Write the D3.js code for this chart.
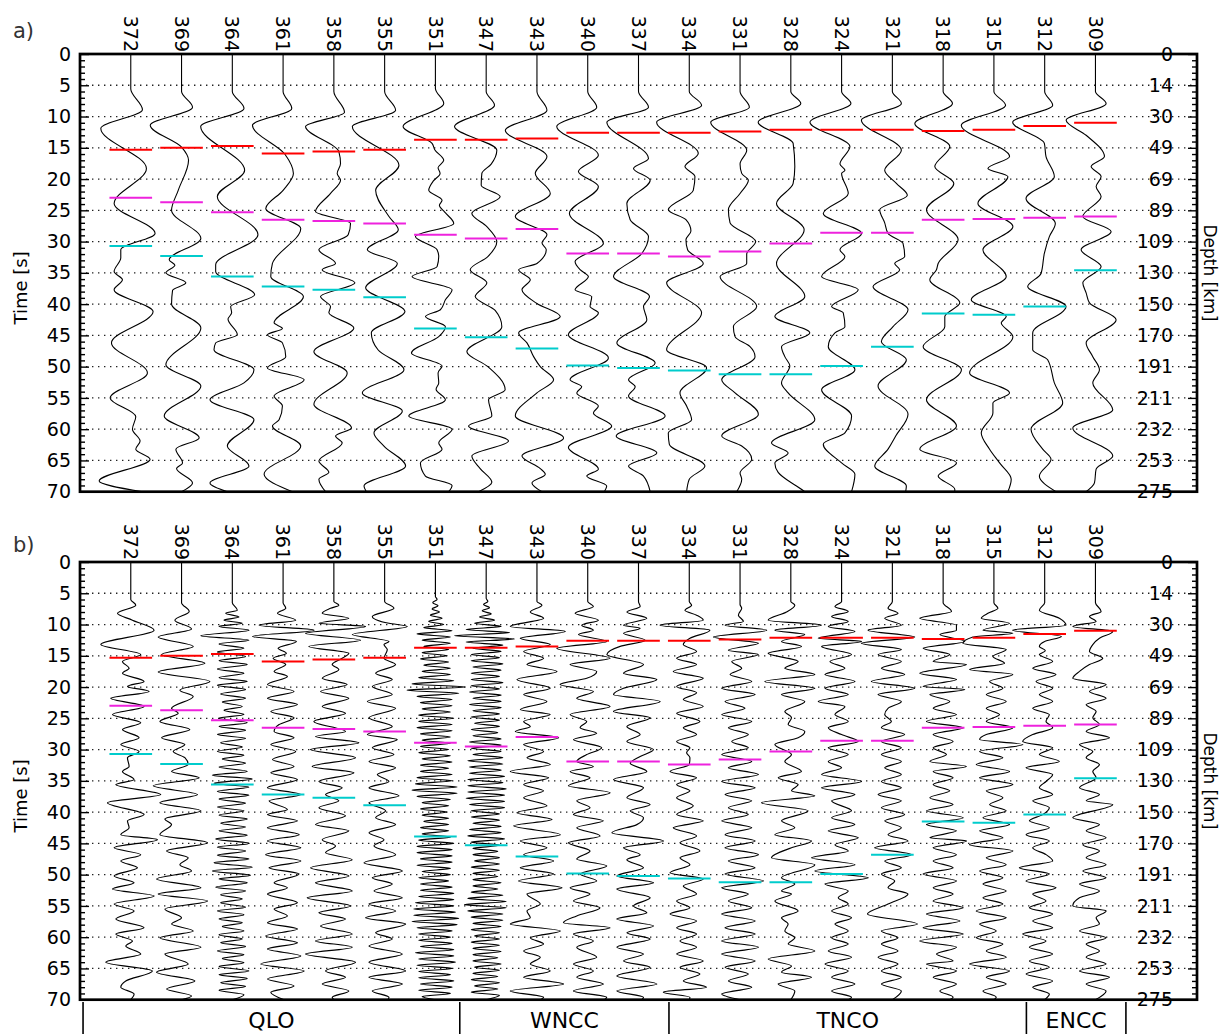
<!DOCTYPE html>
<html><head><meta charset="utf-8">
<script src="https://cdn.jsdelivr.net/npm/d3@7"></script>
<style>body{margin:0;background:#fff}svg{display:block}text{font-family:"DejaVu Sans",sans-serif}</style>
</head><body><svg id="c" width="1223" height="1034"></svg>
<script>
// ---------- data ----------
const stations = ["372","369","364","361","358","355","351","347","343","340","337","334","331","328","324","321","318","315","312","309"];
const timeTicks = [0,5,10,15,20,25,30,35,40,45,50,55,60,65,70];
const depthLabels = ["0","14","30","49","69","89","109","130","150","170","191","211","232","253","275"];
const redPick = [15.3,15.0,14.7,15.9,15.6,15.3,13.7,13.7,13.5,12.6,12.6,12.6,12.4,12.1,12.1,12.1,12.3,12.1,11.5,11.0];
const magentaPick = [23.0,23.7,25.3,26.5,26.7,27.1,28.9,29.5,28.0,31.9,31.9,32.4,31.6,30.3,28.6,28.6,26.5,26.4,26.2,26.0];
const cyanPick = [30.7,32.3,35.6,37.2,37.7,38.9,43.9,45.3,47.1,49.8,50.2,50.6,51.2,51.2,49.9,46.8,41.5,41.7,40.4,34.6];
const regionNames = ["QLO","WNCC","TNCO","ENCC"];
const regionEdges = [0.06,7.48,11.6,18.64,20.6];

// panel a traces: [time s, relative amplitude]
const a372=[[0,0],[5.6,0],[8.9,35],[11.9,-90],[18.3,47],[23.9,-50],[28.7,73],[31.3,-30],[32.6,-30],[34.8,-50],[36.1,-25],[37.7,-50],[41.2,67],[46.2,-58],[51.0,50],[55.0,-62],[58.0,15],[60.0,5],[61.9,28],[63.2,15],[64.8,58],[68.3,-95],[70,35]];
const a369=[[0,0],[6,0],[8.5,33],[11.4,-94],[14.9,0],[17,21],[21.8,-10],[25,-30],[29.5,58],[32.9,-37],[33.8,-20],[35,-47],[36.6,13],[37.8,-27],[40,-30],[43.8,58],[49.7,-47],[53.1,58],[57.9,-52],[61.4,53],[63.2,-17],[65.4,3],[66.3,-15],[68.6,33],[70,0]];
const a364=[[0,0],[6,0],[8.7,35],[11.6,-95],[18.6,37],[22.8,-45],[28.9,77],[33.7,-50],[34.8,-50],[38.5,67],[40.4,-5],[41.4,-2],[42.4,-13],[44.9,15],[46.2,-50],[47.3,-55],[50.5,65],[52.6,35],[55.3,-67],[58.5,65],[62.7,-15],[65.9,50],[68.6,-67],[70,-15]];
const a361=[[0,0],[6,0],[8.7,26],[11.4,-92],[16,5],[19.1,31],[21.8,0],[24.7,-52],[27.9,53],[33.5,-32],[35.6,-37],[38.8,61],[43,-27],[43.9,-2],[44.9,-47],[46.2,-2],[48.4,8],[50.2,-47],[52.1,63],[54.7,-27],[56.3,-2],[58.5,-12],[59.5,-32],[62.7,53],[67.2,-57],[70,28]];
const a358=[[0,0],[6,0],[9.3,32],[11.6,-85],[15.6,15],[17.5,20],[19.1,10],[20.2,20],[22.3,-10],[25.2,-55],[27.1,50],[28.9,43],[31.3,-45],[33.5,5],[34.5,-35],[36.6,63],[38.8,-40],[40.4,-10],[41.4,-15],[43.8,60],[47.6,-60],[51,40],[56,-60],[59.8,53],[61.1,5],[62.2,25],[65.1,-45],[66.9,-15],[68,-45],[70,-25]];
const a355=[[0,0],[6,0],[9,33],[11.6,-97],[17.8,43],[21.8,-27],[26,13],[28.1,41],[31.3,-52],[33.5,38],[37.4,-57],[41.2,61],[44.6,-40],[47.3,-20],[50.5,58],[54.2,-67],[57.1,53],[60.6,-32],[62.7,-2],[65.9,63],[69.1,-62],[70,-55]];
const a351=[[0,0],[5.5,0],[7.9,25],[11.6,-97],[14.3,-10],[15.3,-2],[17,25],[18.2,8],[19.1,14],[20.3,-6],[21.8,-20],[23.4,20],[24.2,12],[25.3,28],[27.1,55],[29.2,-60],[31.3,5],[32.4,10],[34,5],[35.6,-70],[37.7,50],[39.3,30],[40.9,15],[42,-30],[43.6,30],[45.2,10],[47.8,-72],[49.9,20],[51,8],[52.6,10],[53.6,2],[55.3,30],[57.9,-80],[60,50],[62.2,10],[63.2,20],[65.4,-45],[67.5,-30],[69,50],[70,40]];
const a347=[[0,0],[6,0],[8.2,25],[11.6,-95],[15.4,32],[17.6,15],[19.1,-13],[21,-15],[22.8,42],[25.5,-43],[27.6,2],[30,32],[32.4,5],[34.5,-48],[36.6,2],[38.8,-33],[41,27],[43.6,47],[47.6,-58],[50,5],[53.7,57],[55.3,7],[57.9,17],[59.5,-53],[61.9,67],[64.3,-43],[66.3,-18],[68.5,17],[70,-23]];
const a343=[[0,0],[6,0],[9,30],[12.2,-95],[16.4,30],[19.1,-5],[22.3,40],[26,-65],[28.9,30],[30.2,15],[31.3,28],[33.5,0],[34.5,-55],[36.1,-20],[37.7,-45],[39.9,0],[42,70],[44.6,-55],[46.2,-30],[48.4,-10],[50,10],[52.1,50],[54.2,0],[57.9,-65],[61.4,80],[64.3,-45],[66.3,10],[67.2,25],[68.6,-15],[70,15]];
const a340=[[0,0],[6,0],[8.5,27],[11.6,-93],[16.2,32],[18.8,-28],[21.2,32],[25.5,-55],[30.3,47],[33.2,-38],[34.5,-23],[35.6,2],[37.7,-38],[38.8,12],[40.4,7],[41.4,32],[44.9,-58],[48.6,62],[52.1,-53],[53.2,-18],[54.2,-33],[56.3,32],[57.4,17],[59.5,72],[62.9,-58],[66.4,32],[67.5,-3],[69.1,57],[70,50]];
const a337=[[0,0],[6,0],[8.5,30],[10.9,-95],[16.7,30],[18.3,-15],[20.2,35],[23.9,-35],[26.5,-25],[29.2,30],[31.9,10],[35.6,-75],[38.8,33],[40.4,15],[42.5,25],[46.2,-65],[49.4,50],[52.1,-30],[53.2,-10],[54.7,-30],[57.9,80],[61.1,-67],[63.8,55],[65.9,-30],[67.5,15],[70,35]];
const a334=[[0,0],[6,0],[8.2,37],[10.9,-98],[15.9,27],[18,-13],[19.6,17],[21.8,12],[24.9,-63],[26.5,-10],[28.3,5],[29.7,-10],[31.3,-5],[33.5,42],[36.6,-68],[41.4,37],[47.3,-68],[50.2,52],[54.2,-28],[56.3,-8],[58.5,7],[60.6,-63],[62.4,-60],[65.9,47],[68,0],[70,-8]];
const a331=[[0,0],[6,0],[8.5,28],[10.9,-88],[15.4,20],[17.6,0],[19.1,5],[20.2,25],[22.3,0],[24.9,-35],[27,-30],[30,47],[32,20],[33.5,20],[35.6,-60],[40.4,50],[43.6,-20],[45.2,-15],[46.8,30],[48.4,45],[52.1,-55],[54.2,-15],[57.6,55],[61.1,-55],[62.7,5],[64.8,35],[67,0],[68,5],[70,-10]];
const a328=[[0,0],[6,0],[7.9,30],[10.9,-98],[14.3,7],[18,12],[20.7,7],[23.9,-43],[28.1,40],[33.5,-43],[38.8,42],[42,-48],[44.6,57],[46.8,-28],[48.4,-18],[49.9,-3],[52.6,-28],[54.2,-8],[58.5,72],[62.2,-58],[63.8,-8],[65.4,-48],[66.9,-38],[69.1,17],[70,42]];
const a324=[[0,0],[6,0],[7.9,28],[10.9,-95],[14.8,25],[17.6,-5],[18.6,10],[19.1,0],[22.3,20],[25.5,-55],[28.7,60],[31.3,-5],[32.4,10],[35.6,-60],[37.7,50],[40.4,-30],[41.4,5],[43.6,10],[44.6,-20],[46.8,-40],[50.5,40],[53.7,-60],[57.9,30],[60.6,10],[62.4,-55],[65.4,0],[67.2,40],[70,30]];
const a321=[[0,0],[6,0],[7.9,27],[10.6,-93],[15.4,27],[18.6,-23],[20.7,12],[22.6,45],[24.9,-38],[27,-23],[28.7,-13],[30.3,32],[32.4,37],[33.5,7],[34.5,22],[37.2,-58],[40.9,47],[43.6,2],[46,-33],[48.9,42],[53.1,-43],[57.6,47],[61.1,10],[63.2,-13],[65.9,-53],[69.1,42],[70,40]];
const a318=[[0,0],[6,0],[7.9,28],[11.1,-85],[14.8,20],[18,-25],[20.7,32],[24.9,-50],[29.7,45],[33.5,-15],[34.5,-20],[36.1,-40],[39.8,50],[42,5],[43.6,5],[46.8,-60],[50.5,55],[55.3,-50],[59.5,40],[63.2,-70],[65.4,40],[67.5,-15],[69.6,35],[70,35]];
const a315=[[0,0],[6,0],[8.2,35],[11.4,-98],[16.4,47],[18.3,-18],[19.6,42],[23.9,-48],[27.6,57],[31.3,-33],[35.6,37],[39.3,-68],[42,37],[43,22],[45.2,57],[51,-73],[54.2,47],[55.8,-3],[57.4,-3],[60.6,-38],[63.2,-13],[65.4,17],[68,52],[70,42]];
const a312=[[0,0],[6,0],[8.2,24],[10.9,-96],[14.3,-1],[16.4,4],[19.6,29],[23.1,-56],[27.1,32],[29.2,14],[31.9,-1],[35.1,-11],[37.2,-51],[40.4,64],[44.6,-36],[47.3,-36],[48.9,9],[52.6,29],[55.8,54],[60,-41],[63.2,-6],[64.8,19],[67.5,-16],[70,34]];
const a309=[[0,0],[6,0],[7.9,32],[10.6,-88],[13,-28],[16.4,27],[18,-13],[19.6,17],[21.2,2],[22.8,17],[26,-38],[28.4,47],[31.3,-43],[34,17],[36.6,-38],[38.2,-28],[39.8,-18],[42.5,62],[46.2,-28],[48.4,-8],[50.5,12],[52.6,-8],[56.9,52],[59.8,-68],[64.3,52],[66.4,2],[68.6,-3],[70,-28]];

// panel b traces
const b372=[[0,0],[6,0],[6.9,15],[8.2,-40],[9.3,5],[10.9,70],[13.2,-90],[14.8,30],[15.9,-25],[17,-5],[17.8,-25],[19.1,40],[19.9,-10],[20.7,55],[21.8,-60],[23.1,40],[24.4,-55],[25.7,30],[26.8,-25],[28.1,25],[29.2,-30],[30.3,25],[31.3,-10],[32.7,-5],[33.5,-25],[34.8,10],[35.6,-45],[37.2,90],[38.5,-70],[40.4,40],[41.4,-10],[42.5,-5],[43.6,-30],[44.4,80],[45.7,-50],[46.8,30],[47.8,-30],[48.9,20],[50.2,-50],[51.3,10],[52.3,-55],[53.4,70],[54.7,-50],[55.8,10],[57.1,-45],[58.5,40],[59.5,-45],[60.6,5],[61.4,-15],[62.7,30],[64,-75],[65.4,65],[67,-15],[68,-30],[69.1,10],[70,0]];
const b369=[[0,0],[6.5,0],[7.9,23],[9.3,-20],[10.7,30],[12,-70],[13.5,35],[14.8,-60],[16.2,70],[17.6,-70],[19.1,85],[20.5,-5],[21.5,35],[23.4,-30],[24.2,-10],[25.5,-65],[26.8,25],[28.1,-60],[29.2,10],[30.3,-25],[31.3,10],[32.4,20],[33.5,-30],[34.5,53],[35.8,-85],[37.2,48],[38.5,-65],[39.8,58],[41.1,-50],[42,-30],[43.6,-65],[44.9,78],[46.2,-45],[47.3,20],[48.4,-5],[49.4,30],[50.7,-75],[52.1,58],[53.1,-70],[54.2,78],[55.5,-50],[56.9,0],[57.9,-30],[59,35],[60.1,-65],[61.6,58],[62.7,-50],[64.3,20],[65.6,-75],[67,40],[68.3,-45],[69.4,30],[70,0]];
const b364=[[0,0],[6.5,0],[7.7,15],[8.2,-20],[8.8,20],[9.3,-25],[9.8,30],[10.3,-40],[10.9,50],[11.8,-95],[12.5,50],[13.1,-40],[13.8,35],[14.4,-45],[15.1,40],[15.8,-40],[16.4,45],[17.1,-45],[17.8,35],[18.5,-40],[19.1,45],[19.7,-45],[20.4,40],[21.1,-35],[21.8,40],[22.4,-30],[23.1,30],[23.7,-25],[24.4,35],[25,-40],[25.7,45],[26.3,-40],[26.9,40],[27.6,-45],[28.2,40],[28.9,-35],[29.6,30],[30.3,-45],[30.9,35],[31.5,-30],[32.2,40],[32.8,-40],[33.5,45],[34.1,-60],[34.7,60],[35.4,-55],[36,50],[36.7,-45],[37.3,50],[37.9,-40],[38.6,40],[39.2,-45],[39.8,35],[40.5,-40],[41.1,45],[41.8,-35],[42.4,40],[43,-40],[43.7,45],[44.3,-50],[45,50],[45.6,-45],[46.2,40],[46.9,-45],[47.5,50],[48.1,-55],[48.8,60],[49.4,-60],[50.1,55],[50.7,-40],[51.3,45],[52,-50],[52.6,40],[53.2,-35],[53.9,30],[54.5,-35],[55.2,40],[55.8,-45],[56.4,35],[57.1,-40],[57.7,30],[58.3,-30],[59,35],[59.6,-40],[60.3,30],[60.9,-35],[61.5,40],[62.2,-45],[62.8,35],[63.4,-30],[64.1,35],[64.7,-40],[65.4,50],[66,-40],[66.6,45],[67.3,-35],[67.9,40],[68.5,-40],[69.2,35],[70,0]];
const b361=[[0,0],[6.5,0],[7.4,8],[8.2,-17],[9.3,38],[10.1,-72],[10.9,93],[11.9,-92],[12.7,40],[13.8,-15],[14.6,10],[15.4,-30],[16.4,8],[17.5,-27],[18.3,13],[19.6,-47],[20.7,33],[21.8,-47],[22.8,43],[23.9,-37],[24.9,33],[26,-12],[27.1,-27],[28.1,33],[29.2,-37],[30.3,38],[31.6,-32],[32.7,33],[33.7,-37],[34.8,43],[36.1,-47],[37.2,53],[38.2,-42],[39.6,13],[40.4,-47],[41.4,43],[42.5,-47],[43.6,48],[44.6,-47],[45.7,53],[46.8,-52],[47.8,53],[48.9,-42],[49.9,48],[51.3,-27],[52.1,13],[53.1,-47],[54.5,43],[55.5,-27],[56.6,13],[57.7,-47],[58.7,43],[59.8,-52],[60.9,43],[61.9,-47],[63,53],[64.3,-67],[65.4,63],[66.7,-47],[67.8,33],[68.8,-37],[70,3]];
const b358=[[0,0],[6.3,0],[6.9,15],[7.4,-10],[8.2,-35],[9,45],[9.8,-45],[10.3,95],[11.4,-85],[12.5,80],[13.5,-75],[14.6,45],[15.4,25],[16.4,-5],[17.2,15],[18.6,-35],[19.6,40],[20.7,-40],[21.8,45],[23.1,-35],[24.2,35],[25.5,-60],[27.1,35],[27.9,-55],[28.9,75],[30,-70],[31.3,65],[32.7,-65],[33.7,60],[35.1,-45],[36.1,25],[37.2,-25],[38.2,15],[39.3,-45],[40.6,35],[42,-55],[43,45],[44.4,-35],[45.4,5],[46.5,-25],[47.6,55],[48.9,-70],[50.2,45],[51.3,-55],[52.6,55],[53.7,-80],[55,50],[56.1,-45],[57.1,35],[58.2,-40],[59.5,55],[60.6,-55],[61.6,55],[62.7,-85],[64,65],[65.4,-25],[66.4,35],[67.5,-35],[68.6,45],[69.6,-5],[70,0]];
const b355=[[0,0],[6.3,0],[7.4,28],[8.7,-37],[9.8,13],[10.3,68],[11.6,-97],[12.7,13],[13.2,-2],[14,8],[15.4,-2],[16.4,33],[17.8,-27],[18.8,23],[19.9,-37],[21.2,23],[22.3,-52],[23.4,33],[24.9,-47],[26.3,23],[27.6,-52],[28.4,38],[29.7,-37],[30.8,28],[31.9,-47],[32.9,33],[34,-22],[35.1,13],[36.1,-47],[37.4,43],[38.5,-47],[39.8,3],[40.9,-27],[42,33],[43.3,-47],[44.4,-2],[45.4,-32],[46.8,33],[48.1,-62],[49.4,53],[50.5,-37],[51.5,23],[52.6,-32],[53.7,53],[54.7,-47],[55.8,33],[56.9,-57],[57.9,63],[59.3,-27],[60.3,23],[61.4,-47],[62.7,53],[64,-47],[65.4,63],[66.4,-47],[67.5,53],[68.6,-37],[69.6,13],[70,10]];
const b351=[[0,0],[5.5,0],[6,5],[6.5,-8],[7,8],[7.5,-10],[8,12],[8.5,-15],[9,20],[9.5,-20],[10,25],[10.5,-35],[11,50],[11.5,-55],[12,45],[12.5,-40],[13,45],[13.5,-35],[14,40],[14.5,-40],[15,35],[15.5,-45],[16,40],[16.5,-35],[17,45],[17.5,-40],[18,45],[18.5,-50],[19,55],[19.5,-70],[20,90],[20.5,-85],[21,70],[21.5,-55],[22,50],[22.5,-45],[23,50],[23.5,-40],[24,45],[24.5,-50],[25,55],[25.5,-50],[26,50],[26.5,-55],[27,50],[27.5,-45],[28,45],[28.5,-40],[29,45],[29.5,-45],[30,40],[30.5,-50],[31,45],[31.5,-40],[32,50],[32.5,-45],[33,40],[33.5,-45],[34,50],[34.5,-55],[35,50],[35.5,-60],[36,65],[36.5,-70],[37,65],[37.5,-55],[38,45],[38.5,-40],[39,40],[39.5,-45],[40,35],[40.5,-40],[41,40],[41.5,-35],[42,40],[42.5,-45],[43,40],[43.5,-40],[44,45],[44.5,-50],[45,55],[45.5,-55],[46,50],[46.5,-55],[47,50],[47.5,-45],[48,50],[48.5,-55],[49,45],[49.5,-40],[50,45],[50.5,-50],[51,40],[51.5,-45],[52,50],[52.5,-45],[53,55],[53.5,-50],[54,55],[54.5,-60],[55,55],[55.5,-65],[56,60],[56.5,-65],[57,70],[57.5,-70],[58,65],[58.5,-55],[59,50],[59.5,-50],[60,45],[60.5,-50],[61,50],[61.5,-45],[62,55],[62.5,-60],[63,55],[63.5,-50],[64,60],[64.5,-55],[65,50],[65.5,-50],[66,45],[66.5,-50],[67,55],[67.5,-45],[68,50],[68.5,-50],[69,45],[69.5,-40],[70,0]];
const b347=[[0,0],[5.8,0],[6.3,5],[6.8,-8],[7.3,10],[7.8,-12],[8.3,15],[8.8,-20],[9.3,25],[9.8,-35],[10.3,45],[10.8,-60],[11.3,70],[11.8,-95],[12.3,85],[12.8,-60],[13.3,50],[13.8,-40],[14.3,45],[14.8,-45],[15.3,40],[15.8,-45],[16.3,50],[16.8,-40],[17.3,45],[17.8,-45],[18.3,40],[18.8,-45],[19.3,50],[19.8,-45],[20.3,40],[20.8,-50],[21.3,45],[21.8,-40],[22.3,45],[22.8,-50],[23.3,45],[23.8,-40],[24.3,40],[24.8,-45],[25.3,40],[25.8,-35],[26.3,40],[26.8,-45],[27.3,35],[27.8,-40],[28.3,45],[28.8,-50],[29.3,45],[29.8,-45],[30.3,45],[30.8,-40],[31.3,50],[31.8,-55],[32.3,50],[32.8,-50],[33.3,45],[33.8,-50],[34.3,55],[34.8,-55],[35.3,50],[35.8,-55],[36.3,60],[36.8,-55],[37.3,55],[37.8,-60],[38.3,55],[38.8,-50],[39.3,55],[39.8,-45],[40.3,40],[40.8,-45],[41.3,40],[41.8,-40],[42.3,45],[42.8,-50],[43.3,45],[43.8,-55],[44.3,55],[44.8,-45],[45.3,40],[45.8,-40],[46.3,35],[46.8,-40],[47.3,40],[47.8,-35],[48.3,40],[48.8,-45],[49.3,40],[49.8,-40],[50.3,35],[50.8,-40],[51.3,45],[51.8,-40],[52.3,35],[52.8,-45],[53.3,50],[53.8,-55],[54.3,60],[54.8,-65],[55.3,60],[55.8,-55],[56.3,50],[56.8,-45],[57.3,50],[57.8,-40],[58.3,45],[58.8,-45],[59.3,40],[59.8,-35],[60.3,40],[60.8,-45],[61.3,40],[61.8,-40],[62.3,45],[62.8,-40],[63.3,35],[63.8,-40],[64.3,45],[64.8,-35],[65.3,40],[65.8,-40],[66.3,35],[66.8,-45],[67.3,40],[67.8,-35],[68.3,35],[68.8,-45],[69.3,40],[70,0]];
const b343=[[0,0],[6.3,0],[6.9,15],[8,-20],[9,20],[10.3,-80],[11.1,85],[12.2,-50],[13.2,40],[14.3,-40],[15.4,20],[16.4,-30],[17.5,60],[18.8,-60],[20.2,40],[21.2,-40],[22.3,30],[23.6,-50],[24.4,40],[25.5,-40],[26.3,-20],[27.1,-65],[28.1,65],[29.2,-40],[30.3,20],[31.3,-30],[32.4,40],[33.5,-80],[34.5,35],[35.6,-40],[36.6,20],[37.7,-40],[39,30],[40.1,-60],[41.2,45],[42.2,-70],[43.6,70],[44.6,-50],[45.7,30],[46.8,-40],[47.8,50],[48.9,-50],[49.9,50],[51,-55],[52.1,75],[53.1,-30],[54.7,10],[55.8,-30],[56.9,-20],[57.9,-80],[59,70],[60.1,-20],[61.1,20],[62.2,-40],[63.2,10],[64.3,-20],[65.4,40],[66.4,-40],[67.5,80],[68.6,-80],[69.6,20],[70,10]];
const b340=[[0,0],[6.3,0],[7.1,17],[8.2,-38],[9.3,32],[10.1,-18],[10.9,17],[11.6,-28],[12.7,57],[13.8,-93],[15.4,67],[16.4,-53],[17.5,27],[18.6,-3],[19.6,-83],[20.7,17],[21.8,-33],[23.1,67],[24.4,-53],[25.5,-3],[26.5,-23],[27.4,27],[28.4,-43],[29.7,42],[30.8,-3],[31.9,-33],[32.7,17],[33.5,-53],[34.5,7],[35.8,-58],[36.9,67],[38.2,-33],[39.3,7],[40.4,-43],[41.4,47],[42.5,-33],[43.8,37],[44.9,-58],[46.2,7],[47.5,-33],[48.6,57],[49.9,-23],[51,27],[52.1,-53],[53.1,7],[54.2,-43],[55.3,37],[56.6,-33],[57.7,-73],[58.5,67],[59.5,-43],[60.6,17],[61.6,-33],[63.2,27],[64.3,-43],[65.4,17],[66.4,-33],[67.5,47],[68.6,-43],[69.6,57],[70,50]];
const b337=[[0,0],[6.3,0],[7.1,5],[8,-35],[9,25],[10.1,-45],[10.6,5],[11.4,-45],[12.5,20],[13.5,-55],[14.8,-95],[16.4,15],[17.8,-45],[18.8,55],[20.2,-45],[21.2,-75],[22.3,65],[23.9,-75],[24.9,35],[26.3,-35],[27.6,5],[28.7,-35],[30,45],[31.1,5],[32.2,-25],[33.5,25],[34.8,-75],[36.1,15],[37.7,-35],[38.8,35],[39.8,-25],[40.9,15],[42,-5],[43.3,-80],[44.6,75],[45.7,-45],[46.8,5],[47.6,-35],[48.9,15],[50.2,-65],[51.3,45],[52.3,-65],[53.7,35],[55,-15],[56.1,25],[57.1,-65],[58.2,45],[59.3,-35],[60.3,35],[61.6,-65],[62.7,15],[63.8,-45],[64.8,35],[66.2,-65],[67.5,55],[68.6,-65],[69.6,15],[70,10]];
const b334=[[0,0],[6.3,0],[6.9,7],[7.7,-13],[8.5,22],[9.3,42],[10.1,-88],[10.9,62],[12.2,2],[13.2,-18],[14.3,22],[15.4,-38],[16.4,22],[17.5,-48],[18.6,42],[19.9,-38],[20.9,22],[22,-18],[23.1,42],[24.2,-38],[25.5,32],[26.5,-18],[27.6,22],[28.7,-38],[29.7,2],[30.5,-8],[31.3,2],[32.4,0],[33.5,-58],[34.5,22],[35.6,-38],[36.6,2],[37.7,-38],[39,12],[40.4,-38],[41.4,42],[42.5,-48],[43.8,22],[44.9,-28],[46.2,32],[47.3,-28],[48.4,2],[49.7,-58],[50.7,42],[51.8,-18],[53.1,22],[54.2,-38],[55.3,2],[56.3,-58],[57.4,22],[58.5,-38],[59.5,22],[60.6,-28],[61.6,22],[62.7,-38],[63.8,42],[64.8,-28],[65.9,32],[67,-18],[68,52],[68.8,-78],[69.6,2],[70,0]];
const b331=[[0,0],[6.8,0],[7.4,5],[8.5,-5],[9.5,10],[10.1,-45],[10.9,80],[12,-80],[13,55],[14.1,-35],[14.8,55],[15.9,-25],[17,5],[18,-30],[19.1,35],[20.2,-55],[21.2,45],[22.3,-45],[23.4,15],[24.4,-55],[25.5,35],[26.5,-35],[27.6,25],[28.7,-25],[29.7,25],[30.8,-55],[31.9,35],[32.9,-35],[34,55],[35.1,-55],[36.1,45],[37.2,-45],[38.2,35],[39.3,-35],[40.4,25],[41.4,-55],[42.5,35],[43.6,-45],[44.6,45],[45.7,-45],[46.8,55],[47.8,-35],[48.9,45],[49.9,-45],[51,70],[52.1,-55],[53.1,25],[54.2,-35],[55.3,35],[56.3,-55],[57.4,45],[58.5,-45],[59.5,45],[60.6,-55],[61.6,55],[62.7,-55],[63.8,45],[64.8,-45],[65.9,25],[67,-35],[68,35],[69.1,-55],[70,0]];
const b328=[[0,0],[6.3,0],[6.9,12],[8,-13],[9.3,-68],[10.1,92],[10.9,-48],[11.6,42],[12.7,-28],[13.5,32],[14.6,-68],[15.9,22],[17,-18],[18,72],[19.1,-78],[20.2,72],[21.2,-28],[22.3,42],[23.9,-18],[24.9,2],[26,-8],[27.1,42],[28.1,22],[29.2,-48],[30.8,2],[31.9,-18],[33.5,32],[34.5,-38],[35.6,22],[36.6,2],[37.4,72],[38.5,-88],[39.8,52],[41.4,-28],[42.5,12],[43.6,-48],[44.6,62],[45.7,2],[47.3,-58],[48.4,72],[50.5,-28],[51.5,12],[52.6,-28],[53.1,2],[54.2,-48],[55.8,22],[56.9,-28],[57.9,-8],[59,-18],[60.1,12],[61.1,-8],[62.2,72],[63.5,-68],[64.6,2],[65.6,-28],[66.4,62],[67.5,-38],[68.6,12],[70,0]];
const b324=[[0,0],[6.3,0],[7.1,-20],[7.9,20],[8.7,-30],[9.5,20],[10.3,-40],[11.1,40],[12.2,-70],[12.7,60],[13.5,-60],[14.8,30],[15.9,-35],[17,10],[18,-50],[19.1,40],[20.2,-50],[21.2,20],[22.3,-70],[23.1,10],[24.4,-20],[25.5,20],[26.5,-40],[27.6,0],[28.7,50],[29.7,-40],[30.8,20],[31.9,-40],[32.9,0],[34,-60],[35.1,60],[36.1,-60],[37.2,40],[38.2,-30],[39.8,30],[40.9,-30],[42,40],[43,-40],[44.1,50],[45.2,-20],[46.2,20],[47.3,-90],[48.4,40],[49.4,-80],[50.5,80],[51.5,-50],[52.6,20],[53.7,-10],[54.7,20],[55.8,-30],[56.9,30],[57.9,-20],[59,20],[60.1,-30],[61.1,20],[62.2,-40],[63.2,30],[64.3,-50],[65.4,20],[66.4,-30],[67.5,40],[68.6,-30],[69.6,30],[70,20]];
const b321=[[0,0],[6.3,0],[7.4,-13],[8.2,17],[9,-23],[10.1,27],[10.9,-73],[12,67],[13,-93],[14,27],[14.8,-43],[15.9,27],[17,-33],[18,37],[19.1,-63],[20.2,67],[21.2,-43],[22.3,27],[23.4,-13],[24.4,-23],[25.5,-3],[26.5,-33],[27.6,37],[28.7,-33],[29.7,27],[30.8,-33],[31.9,27],[32.9,-23],[34,27],[35.1,-33],[36.1,27],[37.2,-43],[38.2,27],[39.3,-33],[40.4,37],[41.4,-23],[42.5,27],[43.6,-13],[44.6,47],[45.7,-53],[46.8,57],[47.8,-23],[48.9,27],[49.9,-33],[51,7],[52.1,-13],[53.1,47],[54.7,-13],[56.3,-75],[57.9,75],[59,-33],[60.1,17],[61.1,-33],[62.2,17],[63.2,-43],[64.3,17],[65.4,-33],[66.4,27],[67.5,-33],[68.6,27],[70,0]];
const b318=[[0,0],[6.5,0],[7.9,25],[9,-70],[10.1,40],[10.9,40],[11.6,-10],[12.7,65],[13.8,-60],[14.8,20],[15.9,-30],[16.4,70],[17.8,-70],[18.8,40],[19.9,-60],[20.4,65],[21.2,-40],[22.3,20],[23.4,-30],[24.4,40],[25.5,-50],[26.5,60],[27.6,-30],[28.7,30],[29.7,-30],[30.8,10],[31.9,-40],[32.7,70],[33.5,-30],[34.5,30],[35.6,-30],[36.6,20],[37.7,-40],[38.8,30],[39.8,-50],[40.9,60],[42,-50],[43,40],[44.1,-40],[44.6,70],[45.7,-30],[46.8,40],[47.8,-30],[48.9,30],[49.9,-60],[51,40],[52.1,-30],[53.1,30],[54.2,-30],[55.3,60],[56.3,-50],[57.4,50],[58.5,-60],[59.5,60],[60.6,-70],[61.6,40],[62.7,-20],[63.8,30],[64.3,-50],[65.4,40],[66.4,-30],[67.5,40],[68.6,-10],[69.6,30],[70,20]];
const b315=[[0,0],[6.5,0],[7.4,12],[8.2,-18],[9,-38],[9.8,47],[10.9,-33],[11.4,57],[12,-63],[13,-93],[14,37],[15.1,-3],[16.2,32],[17.2,-73],[18,57],[19.1,-13],[20.2,27],[21.2,-23],[22.3,37],[23.4,-23],[24.4,17],[25.5,-23],[26.5,57],[27.6,-23],[28.4,-43],[29.2,87],[30.3,-43],[31.3,27],[32.4,-53],[33.5,47],[34.5,-43],[35.6,57],[36.6,-23],[37.7,27],[38.8,-13],[39.8,37],[40.9,-33],[42,47],[43,-43],[44.1,27],[45.2,-73],[46.2,57],[47.3,-23],[48.4,37],[49.4,-43],[50.5,27],[51.5,-33],[52.6,37],[53.7,-33],[54.7,27],[55.8,-53],[56.9,37],[57.9,-43],[59,7],[60.1,-53],[61.1,27],[62.2,-23],[63.2,37],[64.3,-73],[65.4,47],[66.4,-23],[67.5,37],[68.6,-33],[69.6,7],[70,0]];
const b312=[[0,0],[6.5,0],[7.7,-16],[9,44],[10.1,64],[10.9,-96],[11.9,50],[12.7,0],[13.5,-16],[14.2,2],[14.8,-16],[15.9,24],[17,-36],[18,34],[19.1,-26],[20.2,24],[21.2,-16],[22.3,24],[23.4,-36],[24.4,14],[25.5,4],[26.5,24],[27.6,-36],[28.7,-66],[29.7,24],[30.8,-16],[31.9,44],[32.9,-56],[34,24],[35.1,4],[36.1,-16],[37.2,24],[38.2,-36],[39.3,14],[40.4,-6],[41.4,-46],[42.5,14],[43.6,-56],[44.6,14],[45.7,-36],[46.8,4],[47.8,24],[48.9,-76],[49.9,14],[51,-56],[52.1,34],[53.1,-36],[54.2,4],[55.3,-46],[56.3,24],[57.4,-36],[58.5,24],[59.5,-66],[60.6,4],[61.6,-46],[62.7,24],[63.8,-46],[64.8,14],[65.9,-56],[67,24],[68,-36],[69.1,14],[70,0]];
const b309=[[0,0],[6.5,0],[7.9,17],[8.7,-18],[9.5,2],[10.3,-68],[11.1,52],[12.2,12],[13.2,-8],[14.3,-18],[15.4,22],[16.4,-18],[17.5,-48],[18.6,-68],[19.6,32],[20.7,-18],[21.8,32],[22.8,-28],[23.9,2],[24.9,-8],[26,12],[27.1,-28],[28.1,42],[29.2,-48],[30.3,-8],[31.3,-28],[32.4,12],[33.5,-8],[34.5,2],[36.1,-48],[37.2,12],[38.2,-28],[38.8,52],[40.9,-68],[42,12],[43,-28],[44.1,32],[45.2,-38],[46.2,12],[47.3,-28],[48.4,32],[49.4,-38],[50.5,32],[51.5,-48],[52.6,12],[53.7,-48],[55,-68],[55.8,32],[56.9,2],[57.9,12],[59,-48],[60.1,32],[61.1,-28],[62.2,12],[63.2,-28],[64.3,32],[65.4,-48],[66.4,42],[67.5,-28],[68.6,32],[70,0]];

const tracesA=[a372,a369,a364,a361,a358,a355,a351,a347,a343,a340,a337,a334,a331,a328,a324,a321,a318,a315,a312,a309];
const tracesB=[b372,b369,b364,b361,b358,b355,b351,b347,b343,b340,b337,b334,b331,b328,b324,b321,b318,b315,b312,b309];

// ---------- drawing ----------
const svg=d3.select("#c");
const x=d3.scaleLinear().domain([0,22]).range([80,1197]);
const amp=d3.scaleLinear().domain([-100,100]).range([-33.3,33.3]);
const FONT='"DejaVu Sans",sans-serif';
const panels=[
  {label:"a)",top:54,bottom:491.7,data:tracesA,labY:38,sw:1.1},
  {label:"b)",top:562,bottom:999.7,data:tracesB,labY:552,sw:1.15}
];
const defs=svg.append("defs");
panels.forEach((p,pi)=>{
  const y=d3.scaleLinear().domain([0,70]).range([p.top,p.bottom]);
  const g=svg.append("g");
  defs.append("clipPath").attr("id","clip"+pi).append("rect")
    .attr("x",x(0)).attr("y",p.top).attr("width",x(22)-x(0)).attr("height",p.bottom-p.top);
  // grid
  g.append("g").selectAll("line").data(timeTicks.filter(t=>t>0&&t<70)).join("line")
    .attr("x1",x(0)).attr("x2",x(22)).attr("y1",d=>y(d)).attr("y2",d=>y(d))
    .attr("stroke","#222").attr("stroke-width",1.3).attr("stroke-dasharray","1.4,4.6");
  // traces
  const tg=g.append("g").attr("clip-path",`url(#clip${pi})`);
  p.data.forEach((tr,i)=>{
    const x0=x(i+1);
    const line=d3.line().x(d=>x0+amp(d[1])).y(d=>y(d[0])).curve(d3.curveMonotoneY);
    tg.append("path").attr("d",line(tr)).attr("fill","none").attr("stroke","#000").attr("stroke-width",p.sw);
  });
  // picks
  [[redPick,"#ff0000"],[magentaPick,"#ee22dd"],[cyanPick,"#00cccc"]].forEach(([arr,col])=>{
    g.append("g").selectAll("line").data(arr).join("line")
      .attr("x1",(d,i)=>x(i+1-0.42)).attr("x2",(d,i)=>x(i+1+0.42))
      .attr("y1",d=>y(d)).attr("y2",d=>y(d)).attr("stroke",col).attr("stroke-width",2);
  });
  // axes
  const minor=d3.range(0,71).filter(t=>t%5!==0);
  const styleAx=s=>{s.select(".domain").remove();s.attr("font-family",FONT).attr("font-size",19);s.selectAll(".tick line").attr("stroke-width",1.4);};
  g.append("g").attr("transform",`translate(${x(0)},0)`)
    .call(d3.axisLeft(y).tickValues(timeTicks).tickSize(-9).tickPadding(9).tickFormat(d3.format("d"))).call(styleAx);
  g.append("g").attr("transform",`translate(${x(0)},0)`)
    .call(d3.axisLeft(y).tickValues(minor).tickSize(-5).tickFormat("")).call(styleAx);
  const ra=g.append("g").attr("transform",`translate(${x(22)},0)`)
    .call(d3.axisRight(y).tickValues(timeTicks).tickSize(-9).tickFormat((d,i)=>depthLabels[i])).call(styleAx);
  ra.selectAll("text").attr("x",-24).attr("text-anchor","end");
  g.append("g").attr("transform",`translate(${x(22)},0)`)
    .call(d3.axisRight(y).tickValues(minor).tickSize(-5).tickFormat("")).call(styleAx);
  // frame
  g.append("rect").attr("x",x(0)).attr("y",p.top).attr("width",x(22)-x(0)).attr("height",p.bottom-p.top)
    .attr("fill","none").attr("stroke","#000").attr("stroke-width",2.7);
  // station labels
  g.append("g").selectAll("text").data(stations).join("text")
    .attr("transform",(d,i)=>`translate(${x(i+1)},${p.top-2}) rotate(90)`)
    .attr("text-anchor","end").attr("dy","0.36em").attr("font-size",19).attr("font-family",FONT).text(d=>d);
  // panel label & titles
  svg.append("text").attr("x",13).attr("y",p.labY).attr("font-size",21).attr("fill","#333").attr("font-family",FONT).text(p.label);
  const cy=(p.top+p.bottom)/2;
  svg.append("text").attr("transform",`translate(27,${cy+15}) rotate(-90)`).attr("text-anchor","middle")
    .attr("font-size",18).attr("font-family",FONT).text("Time [s]");
  svg.append("text").attr("transform",`translate(1204,${cy}) rotate(90)`).attr("text-anchor","middle")
    .attr("font-size",17).attr("font-family",FONT).text("Depth [km]");
});
// region bar
const rg=svg.append("g");
rg.selectAll("line").data(regionEdges).join("line")
  .attr("x1",d=>x(d)).attr("x2",d=>x(d)).attr("y1",1002).attr("y2",1034)
  .attr("stroke","#000").attr("stroke-width",1.6);
rg.selectAll("text").data(regionNames).join("text")
  .attr("x",(d,i)=>(x(regionEdges[i])+x(regionEdges[i+1]))/2).attr("y",1028)
  .attr("text-anchor","middle").attr("font-size",22).attr("font-family",FONT).text(d=>d);
</script></body></html>
